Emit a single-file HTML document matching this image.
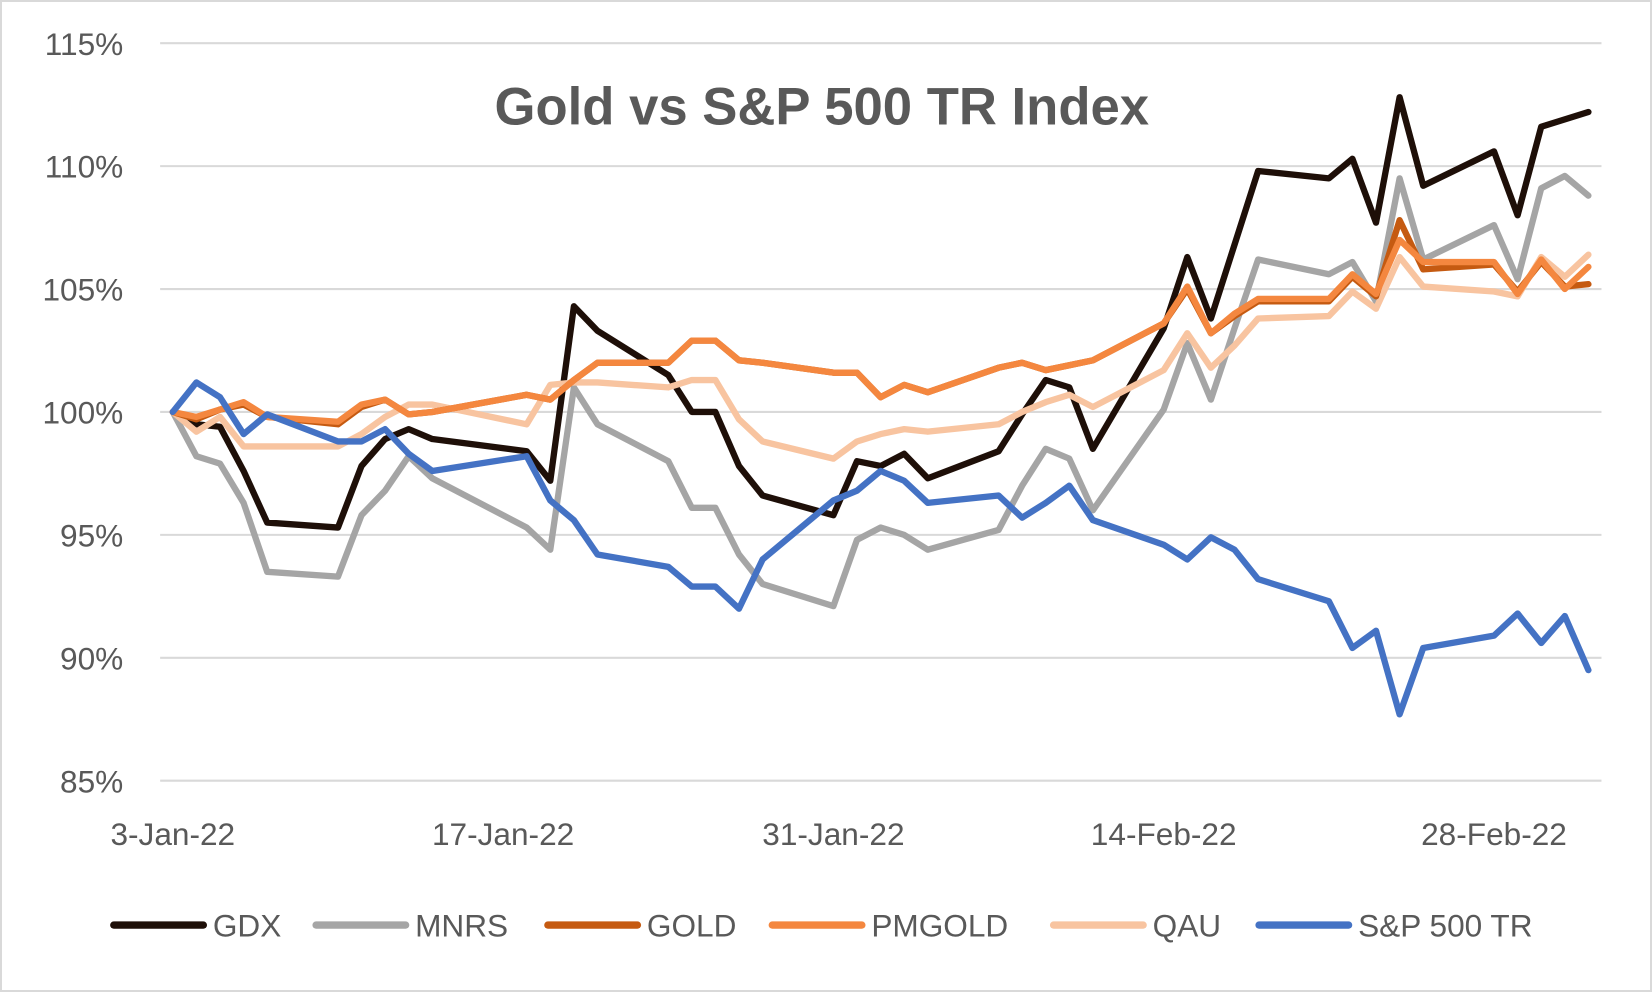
<!DOCTYPE html>
<html><head><meta charset="utf-8"><style>
html,body{margin:0;padding:0;background:#fff;}
body{width:1652px;height:992px;overflow:hidden;font-family:"Liberation Sans",sans-serif;}
svg text{font-family:"Liberation Sans",sans-serif;}
</style></head><body>
<svg id="chart" width="1652" height="992">
<rect x="1" y="1" width="1650" height="990" fill="#fff" stroke="#d9d9d9" stroke-width="2"/>
<g transform="scale(1.0536)">
<g id="grid"></g><g id="yticks"></g><g id="xticks"></g><g id="series"></g><g id="legend"></g>
<text x="780" y="118" text-anchor="middle" font-size="50" font-weight="bold" fill="#595959">Gold vs S&amp;P 500 TR Index</text>
</g>
</svg>
<script>
const days=[0,1,2,3,4,7,8,9,10,11,15,16,17,18,21,22,23,24,25,28,29,30,31,32,35,36,37,38,39,42,43,44,45,46,49,50,51,52,53,56,57,58,59,60];
const gdx=[100,99.5,99.4,97.6,95.5,95.3,97.8,98.9,99.3,98.9,98.4,97.2,104.3,103.3,101.5,100.0,100.0,97.8,96.6,95.8,98.0,97.8,98.3,97.3,98.4,99.9,101.3,101.0,98.5,103.4,106.3,103.8,106.8,109.8,109.5,110.3,107.7,112.8,109.2,110.6,108.0,111.6,111.9,112.2];
const mnrs=[100,98.2,97.9,96.3,93.5,93.3,95.8,96.8,98.2,97.3,95.3,94.4,101.0,99.5,98.0,96.1,96.1,94.2,93.0,92.1,94.8,95.3,95.0,94.4,95.2,97.0,98.5,98.1,96.0,100.1,102.8,100.5,103.4,106.2,105.6,106.1,104.5,109.5,106.2,107.6,105.4,109.1,109.6,108.8];
const gold=[100,99.7,100.1,100.3,99.8,99.5,100.2,100.5,99.9,100.0,100.7,100.5,101.3,102.0,102.0,102.9,102.9,102.1,102.0,101.6,101.6,100.6,101.1,100.8,101.8,102.0,101.7,101.9,102.1,103.6,105.0,103.2,103.9,104.5,104.5,105.5,104.7,107.8,105.8,106.0,104.9,106.1,105.1,105.2];
const pmgold=[100,99.8,100.1,100.4,99.8,99.6,100.3,100.5,99.9,100.0,100.7,100.5,101.3,102.0,102.0,102.9,102.9,102.1,102.0,101.6,101.6,100.6,101.1,100.8,101.8,102.0,101.7,101.9,102.1,103.6,105.1,103.2,104.0,104.6,104.6,105.6,104.8,107.0,106.1,106.1,104.8,106.2,105.0,105.9];
const qau=[100,99.2,99.8,98.6,98.6,98.6,99.1,99.8,100.3,100.3,99.5,101.1,101.2,101.2,101.0,101.3,101.3,99.7,98.8,98.1,98.8,99.1,99.3,99.2,99.5,100.0,100.4,100.7,100.2,101.7,103.2,101.8,102.7,103.8,103.9,104.9,104.2,106.3,105.1,104.9,104.7,106.3,105.5,106.4];
const sp=[100,101.2,100.6,99.1,99.9,98.8,98.8,99.3,98.3,97.6,98.2,96.4,95.6,94.2,93.7,92.9,92.9,92.0,94.0,96.4,96.8,97.6,97.2,96.3,96.6,95.7,96.3,97.0,95.6,94.6,94.0,94.9,94.4,93.2,92.3,90.4,91.1,87.7,90.4,90.9,91.8,90.6,91.7,89.5];
const yTicks=[85,90,95,100,105,110,115];
const xTickDays=[0,14,28,42,56];
const xTickLabels=["3-Jan-22","17-Jan-22","31-Jan-22","14-Feb-22","28-Feb-22"];
const seriesNames=["GDX","MNRS","GOLD","PMGOLD","QAU","S&P 500 TR"];
const seriesData=[gdx,mnrs,gold,pmgold,qau,sp];
const seriesColors=["#1e0f08","#a5a5a5","#c55a11","#f4873f","#f8c4a0","#4472c4"];
const NS="http://www.w3.org/2000/svg";
const xs=d=>164+d*(1418-164)/56;
const ys=v=>391-(v-100)*(741-41)/30;
function mk(tag,attrs,parent){const e=document.createElementNS(NS,tag);for(const k in attrs)e.setAttribute(k,attrs[k]);parent.appendChild(e);return e;}
const grid=document.getElementById('grid'),yt=document.getElementById('yticks'),xt=document.getElementById('xticks'),sg=document.getElementById('series'),lg=document.getElementById('legend');
yTicks.forEach(v=>{
 const l=mk('line',{x1:152,x2:1520,y1:ys(v),y2:ys(v),stroke:'#d9d9d9','stroke-width':2},grid);
 
 
 const t=mk('text',{x:117,y:ys(v)+11,'text-anchor':'end','font-size':30,fill:'#595959'},yt);
 t.textContent=v+'%';
 
 
});
xTickDays.forEach((d,i)=>{
 const t=mk('text',{x:xs(d),y:802,'text-anchor':'middle','font-size':30,fill:'#595959'},xt);
 t.textContent=xTickLabels[i];
 
 
});
const order=[1,0,4,2,3,5];
order.forEach(si=>{
 const pts=days.map((d,i)=>xs(d).toFixed(1)+','+ys(seriesData[si][i]).toFixed(1)).join(' ');
 const p=mk('polyline',{points:pts,fill:'none',stroke:seriesColors[si],'stroke-width':6,'stroke-linejoin':'round','stroke-linecap':'round'},sg);
 
 
});
const legX=[108,300,520,733,1000,1195];
seriesNames.forEach((n,i)=>{
 const g=mk('g',{},lg);
 
 
 mk('line',{x1:legX[i],x2:legX[i]+85,y1:878,y2:878,stroke:seriesColors[i],'stroke-width':7,'stroke-linecap':'round'},g);
 const t=mk('text',{x:legX[i]+94,y:889,'font-size':30,fill:'#595959'},g);
 t.textContent=n;
});
</script>
</body></html>
